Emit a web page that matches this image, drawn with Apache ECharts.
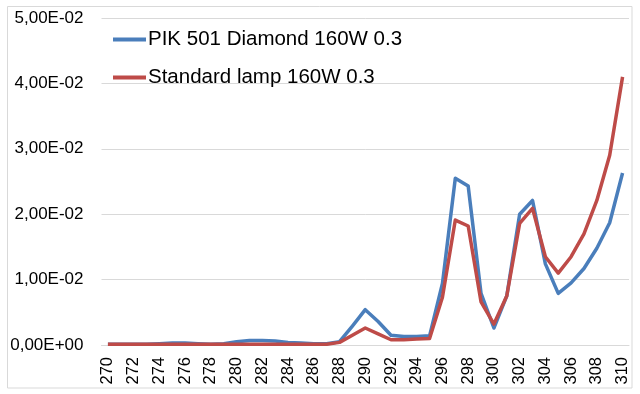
<!DOCTYPE html>
<html>
<head>
<meta charset="utf-8">
<script src="https://cdn.jsdelivr.net/npm/echarts@6/dist/echarts.min.js"></script>
<style>
html,body{margin:0;padding:0;background:#fff;}
#c{width:640px;height:394px;}
</style>
</head>
<body>
<div id="c"></div>
<script>
const wavelengths = [];
for (let w = 270; w <= 310; w++) wavelengths.push(String(w));

const seriesNames = ['PIK 501 Diamond 160W 0.3', 'Standard lamp 160W 0.3'];

const pikDiamond = [
  0.0001, 0.0001, 0.0001, 0.0001, 0.0002, 0.0003, 0.0003, 0.0002, 0.0001, 0.0002,
  0.0005, 0.0007, 0.0007, 0.0006, 0.0004, 0.0003, 0.0002, 0.0002, 0.0005, 0.0029,
  0.0054, 0.0036, 0.0015, 0.0013, 0.0013, 0.0014, 0.0094, 0.0255, 0.0243, 0.0079,
  0.0026, 0.0075, 0.0200, 0.0221, 0.0124, 0.0079, 0.0095, 0.0117, 0.0148, 0.0187,
  0.0263
];

const standardLamp = [
  0.0001, 0.0001, 0.0001, 0.0001, 0.0001, 0.0001, 0.0001, 0.0001, 0.0001, 0.0001,
  0.0001, 0.0001, 0.0001, 0.0001, 0.0001, 0.0001, 0.0001, 0.0001, 0.0004, 0.0015,
  0.0026, 0.0017, 0.0008, 0.0008, 0.0009, 0.0010, 0.0073, 0.0191, 0.0182, 0.0066,
  0.0032, 0.0075, 0.0186, 0.0209, 0.0135, 0.0110, 0.0135, 0.0170, 0.0221, 0.0290,
  0.0410
];

const yTicks = { min: 0, max: 0.05, interval: 0.01 };

function fmt(v) {
  if (Math.abs(v) < 1e-12) return '0,00E+00';
  const s = v.toExponential(2);
  const [m, e] = s.split('e');
  const n = parseInt(e, 10);
  const es = (n < 0 ? '-' : '+') + String(Math.abs(n)).padStart(2, '0');
  return m.replace('.', ',') + 'E' + es;
}

const font = 'Liberation Sans';
const chart = echarts.init(document.getElementById('c'), null, { renderer: 'canvas' });
chart.setOption({
  animation: false,
  backgroundColor: '#ffffff',
  graphic: [{
    type: 'rect',
    shape: { x: 7.5, y: 6.5, width: 624.5, height: 381.5 },
    style: { fill: 'none', stroke: '#d9d9d9', lineWidth: 1 },
    z: -1
  }],
  grid: { left: 101.5, right: 11, top: 18, bottom: 49 },
  legend: {
    orient: 'vertical',
    left: 108,
    top: 24,
    itemWidth: 33,
    itemHeight: 4,
    itemGap: 17,
    icon: 'rect',
    textStyle: { fontFamily: font, fontSize: 20.5, color: '#000', padding: [0, 0, 0, -3] },
    data: seriesNames
  },
  xAxis: {
    type: 'category',
    data: wavelengths,
    boundaryGap: true,
    axisLine: { lineStyle: { color: '#d9d9d9', width: 1 } },
    axisTick: { show: false },
    axisLabel: {
      interval: 1,
      rotate: 90,
      margin: 12,
      fontFamily: font,
      fontSize: 16.5,
      color: '#000'
    },
    splitLine: { show: false }
  },
  yAxis: {
    type: 'value',
    min: yTicks.min,
    max: yTicks.max,
    interval: yTicks.interval,
    axisLine: { show: false },
    axisTick: { show: false },
    axisLabel: {
      formatter: fmt,
      margin: 18,
      fontFamily: font,
      fontSize: 17,
      color: '#000'
    },
    splitLine: { lineStyle: { color: '#d9d9d9', width: 1 } }
  },
  series: [
    {
      name: seriesNames[0],
      type: 'line',
      data: pikDiamond,
      symbol: 'none',
      color: '#4a7ebb',
      lineStyle: { width: 3.5, color: '#4a7ebb', join: 'round' },
      z: 2
    },
    {
      name: seriesNames[1],
      type: 'line',
      data: standardLamp,
      symbol: 'none',
      color: '#be4b48',
      lineStyle: { width: 3.5, color: '#be4b48', join: 'round' },
      z: 3
    }
  ]
});
</script>
</body>
</html>
